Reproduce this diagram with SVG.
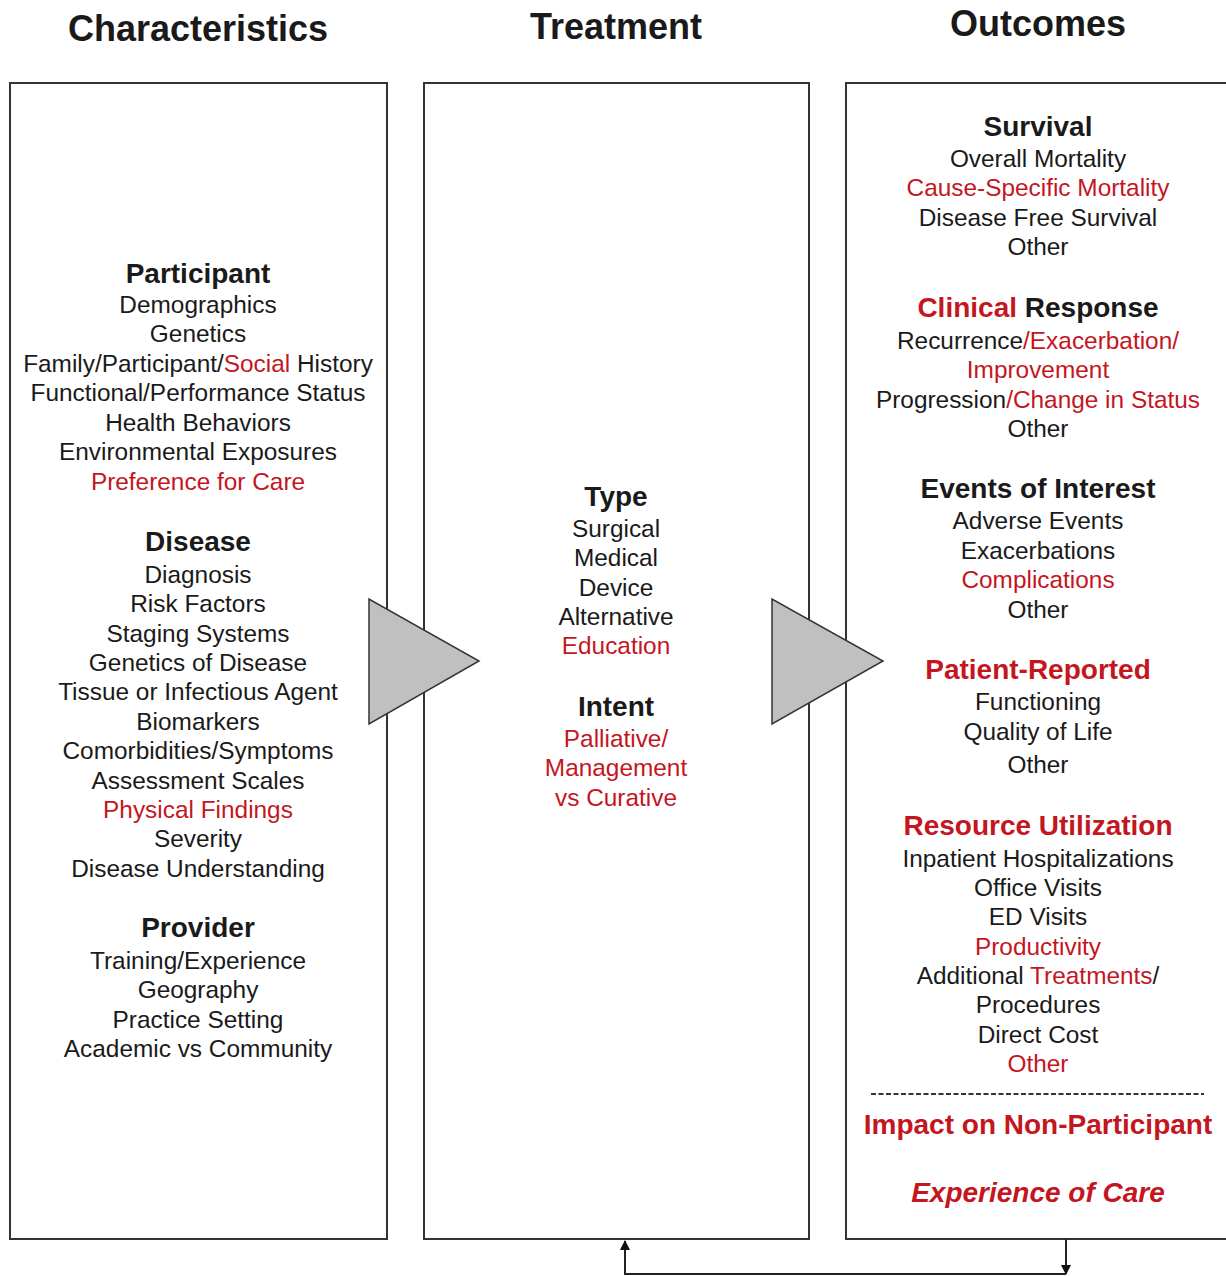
<svg xmlns="http://www.w3.org/2000/svg" width="1226" height="1276" viewBox="0 0 1226 1276">
<defs>
<style>
text{font-family:"Liberation Sans",Arial,sans-serif;text-anchor:middle;fill:#1a1a1a}
.t{font-size:36px;font-weight:bold}
.h{font-size:28px;font-weight:bold}
.n{font-size:24.4px}
.r{fill:#c4161f}
.box{fill:#fff;stroke:#333;stroke-width:2}
.tri{fill:#c0c0c0;stroke:#333;stroke-width:1.5}
.conn{fill:none;stroke:#222;stroke-width:2}
</style>
<marker id="ah" markerWidth="10" markerHeight="10" refX="9" refY="5" orient="auto" markerUnits="userSpaceOnUse">
<path d="M0,0 L10,5 L0,10 z" fill="#111"/>
</marker>
</defs>
<rect width="1226" height="1276" fill="#fff"/>
<g id="titles">
<text class="t" x="198" y="41">Characteristics</text>
<text class="t" x="616" y="39">Treatment</text>
<text class="t" x="1038" y="36">Outcomes</text>
</g>
<g id="characteristics">
<rect class="box" x="10" y="83" width="377" height="1156"/>
<text class="h" x="198" y="283">Participant</text>
<text class="n" x="198" y="313">Demographics</text>
<text class="n" x="198" y="342">Genetics</text>
<text class="n" x="198" y="372">Family/Participant/<tspan class="r">Social</tspan> History</text>
<text class="n" x="198" y="401">Functional/Performance Status</text>
<text class="n" x="198" y="431">Health Behaviors</text>
<text class="n" x="198" y="460">Environmental Exposures</text>
<text class="n r" x="198" y="490">Preference for Care</text>
<text class="h" x="198" y="551">Disease</text>
<text class="n" x="198" y="583">Diagnosis</text>
<text class="n" x="198" y="612">Risk Factors</text>
<text class="n" x="198" y="642">Staging Systems</text>
<text class="n" x="198" y="671">Genetics of Disease</text>
<text class="n" x="198" y="700">Tissue or Infectious Agent</text>
<text class="n" x="198" y="730">Biomarkers</text>
<text class="n" x="198" y="759">Comorbidities/Symptoms</text>
<text class="n" x="198" y="789">Assessment Scales</text>
<text class="n r" x="198" y="818">Physical Findings</text>
<text class="n" x="198" y="847">Severity</text>
<text class="n" x="198" y="877">Disease Understanding</text>
<text class="h" x="198" y="937">Provider</text>
<text class="n" x="198" y="969">Training/Experience</text>
<text class="n" x="198" y="998">Geography</text>
<text class="n" x="198" y="1028">Practice Setting</text>
<text class="n" x="198" y="1057">Academic vs Community</text>
</g>
<g id="treatment">
<rect class="box" x="424" y="83" width="385" height="1156"/>
<text class="h" x="616" y="506">Type</text>
<text class="n" x="616" y="537">Surgical</text>
<text class="n" x="616" y="566">Medical</text>
<text class="n" x="616" y="596">Device</text>
<text class="n" x="616" y="625">Alternative</text>
<text class="n r" x="616" y="654">Education</text>
<text class="h" x="616" y="716">Intent</text>
<text class="n r" x="616" y="747">Palliative/</text>
<text class="n r" x="616" y="776">Management</text>
<text class="n r" x="616" y="806">vs Curative</text>
</g>
<g id="outcomes">
<rect class="box" x="846" y="83" width="400" height="1156"/>
<text class="h" x="1038" y="136">Survival</text>
<text class="n" x="1038" y="167">Overall Mortality</text>
<text class="n r" x="1038" y="196">Cause-Specific Mortality</text>
<text class="n" x="1038" y="226">Disease Free Survival</text>
<text class="n" x="1038" y="255">Other</text>
<text class="h" x="1038" y="317"><tspan class="r">Clinical</tspan> Response</text>
<text class="n" x="1038" y="349">Recurrence<tspan class="r">/Exacerbation/</tspan></text>
<text class="n r" x="1038" y="378">Improvement</text>
<text class="n" x="1038" y="408">Progression<tspan class="r">/Change in Status</tspan></text>
<text class="n" x="1038" y="437">Other</text>
<text class="h" x="1038" y="498">Events of Interest</text>
<text class="n" x="1038" y="529">Adverse Events</text>
<text class="n" x="1038" y="559">Exacerbations</text>
<text class="n r" x="1038" y="588">Complications</text>
<text class="n" x="1038" y="618">Other</text>
<text class="h r" x="1038" y="679">Patient-Reported</text>
<text class="n" x="1038" y="710">Functioning</text>
<text class="n" x="1038" y="740">Quality of Life</text>
<text class="n" x="1038" y="773">Other</text>
<text class="h r" x="1038" y="835">Resource Utilization</text>
<text class="n" x="1038" y="867">Inpatient Hospitalizations</text>
<text class="n" x="1038" y="896">Office Visits</text>
<text class="n" x="1038" y="925">ED Visits</text>
<text class="n r" x="1038" y="955">Productivity</text>
<text class="n" x="1038" y="984">Additional <tspan class="r">Treatments</tspan>/</text>
<text class="n" x="1038" y="1013">Procedures</text>
<text class="n" x="1038" y="1043">Direct Cost</text>
<text class="n r" x="1038" y="1072">Other</text>
<line x1="871" y1="1094" x2="1204" y2="1094" stroke="#333" stroke-width="2" stroke-dasharray="5,2.5"/>
<text class="h r" x="1038" y="1134">Impact on Non-Participant</text>
<text class="h r" x="1038" y="1202" font-style="italic">Experience of Care</text>
</g>
<g id="connectors">
<polygon class="tri" points="369,599 369,724 479,661"/>
<polygon class="tri" points="772,599 772,724 883,661"/>
<line class="conn" x1="1066" y1="1239" x2="1066" y2="1274" marker-end="url(#ah)"/>
<polyline class="conn" points="1066,1274 625,1274 625,1241" marker-end="url(#ah)"/>
</g>
</svg>
